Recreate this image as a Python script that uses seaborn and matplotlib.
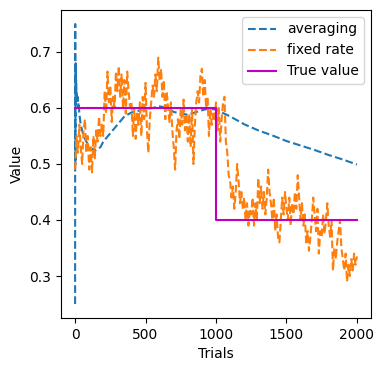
import matplotlib
matplotlib.use("Agg")
import matplotlib.pyplot as plt
import seaborn as sns
import numpy as np
import pandas as pd

# averaging estimate
avg_t = [0, 1, 2, 3, 4, 5, 6, 8, 10, 12, 15, 18, 20, 25, 30, 35, 40, 50, 60, 70, 80,
         100, 120, 150, 180, 200, 250, 300, 350, 400, 450, 500, 550, 600, 650, 700,
         750, 800, 850, 900, 950, 1000, 1100, 1200, 1300, 1400, 1500, 1600, 1700,
         1800, 1900, 2000]
avg_v = [0.25, 0.75, 0.50, 0.62, 0.68, 0.66, 0.64, 0.65, 0.62, 0.63, 0.61, 0.62, 0.60,
         0.61, 0.59, 0.58, 0.57, 0.56, 0.55, 0.545, 0.54, 0.53, 0.527, 0.525, 0.53,
         0.54, 0.555, 0.57, 0.585, 0.592, 0.595, 0.598, 0.60, 0.603, 0.60, 0.593,
         0.59, 0.588, 0.592, 0.596, 0.599, 0.597, 0.585, 0.571, 0.56, 0.551, 0.541,
         0.533, 0.525, 0.516, 0.508, 0.499]

# fixed-rate estimate, every 10 trials
fixed_t = list(range(0, 2001, 10))
fixed_v = [
    0.49, 0.55, 0.52, 0.57, 0.53, 0.50, 0.56, 0.58, 0.52, 0.55,
    0.49, 0.53, 0.485, 0.55, 0.51, 0.56, 0.54, 0.585, 0.55, 0.57,
    0.55, 0.63, 0.59, 0.665, 0.61, 0.64, 0.575, 0.62, 0.60, 0.665,
    0.63, 0.675, 0.62, 0.66, 0.60, 0.65, 0.59, 0.665, 0.63, 0.60,
    0.61, 0.55, 0.60, 0.545, 0.59, 0.57, 0.61, 0.55, 0.62, 0.58,
    0.645, 0.56, 0.52, 0.58, 0.61, 0.64, 0.62, 0.66, 0.63, 0.69,
    0.65, 0.67, 0.62, 0.65, 0.58, 0.63, 0.60, 0.575, 0.61, 0.56,
    0.53, 0.49, 0.56, 0.58, 0.545, 0.60, 0.57, 0.615, 0.56, 0.59,
    0.54, 0.59, 0.53, 0.60, 0.50, 0.57, 0.61, 0.63, 0.61, 0.66,
    0.67, 0.62, 0.65, 0.60, 0.62, 0.55, 0.60, 0.57, 0.59, 0.58,
    0.61, 0.56, 0.60, 0.54, 0.58, 0.61, 0.62, 0.54, 0.52, 0.48,
    0.47, 0.44, 0.46, 0.42, 0.45, 0.50, 0.47, 0.43, 0.45, 0.42,
    0.44, 0.40, 0.43, 0.39, 0.42, 0.41, 0.44, 0.39, 0.43, 0.40,
    0.475, 0.43, 0.46, 0.42, 0.45, 0.41, 0.44, 0.49, 0.45, 0.43,
    0.40, 0.44, 0.38, 0.41, 0.37, 0.36, 0.40, 0.44, 0.41, 0.45,
    0.42, 0.40, 0.44, 0.39, 0.43, 0.41, 0.45, 0.42, 0.48, 0.44,
    0.40, 0.43, 0.39, 0.41, 0.36, 0.38, 0.345, 0.37, 0.40, 0.44,
    0.41, 0.38, 0.42, 0.34, 0.38, 0.37, 0.41, 0.375, 0.40, 0.43,
    0.39, 0.37, 0.40, 0.31, 0.35, 0.33, 0.36, 0.38, 0.40, 0.35,
    0.33, 0.31, 0.34, 0.29, 0.32, 0.30, 0.33, 0.31, 0.34, 0.32,
    0.335,
]

# true value (step)
true_t = [0, 1000, 1000, 2000]
true_v = [0.6, 0.6, 0.4, 0.4]

fig = plt.figure(figsize=(3.85, 3.71), dpi=100)
ax = fig.add_axes([61 / 385, 1 - 318 / 371, 310 / 385, 308 / 371])

sns.lineplot(x=avg_t, y=avg_v, ax=ax, color="#1f77b4", linestyle="--",
             label="averaging", estimator=None, sort=False)
sns.lineplot(x=fixed_t, y=fixed_v, ax=ax, color="#ff7f0e", linestyle="--",
             label="fixed rate", estimator=None, sort=False)
sns.lineplot(x=true_t, y=true_v, ax=ax, color="m", linestyle="-",
             label="True value", estimator=None, sort=False)

ax.set_xlabel("Trials")
ax.set_ylabel("Value")
ax.set_xticks([0, 500, 1000, 1500, 2000])
ax.set_yticks([0.3, 0.4, 0.5, 0.6, 0.7])
ax.legend(loc="upper right")

fig.savefig("out.png", dpi=100)
